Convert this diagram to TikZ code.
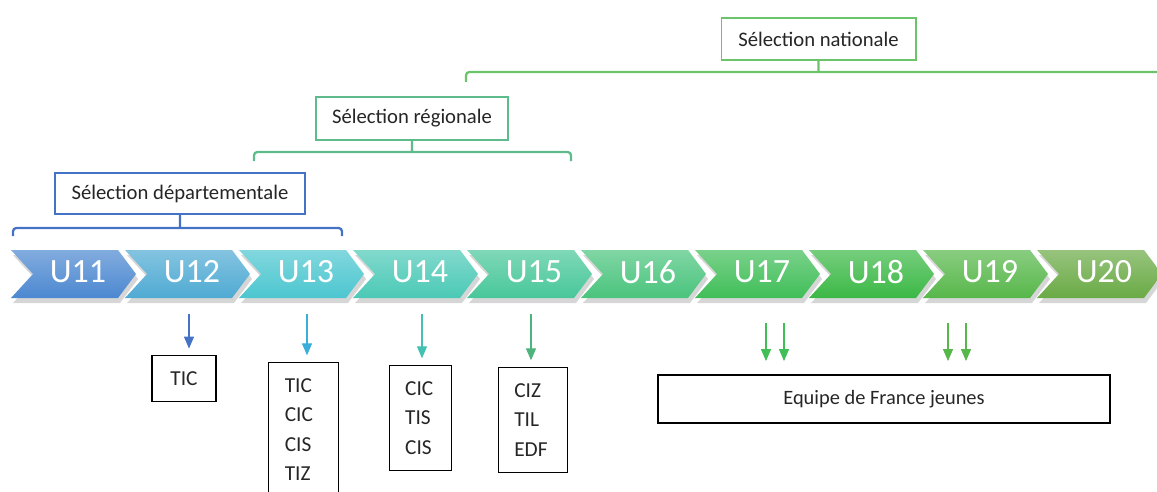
\documentclass[tikz,border=0pt]{standalone}
\usepackage{fontspec}
\setmainfont{Carlito}
\usepackage{tikz}
\usetikzlibrary{positioning}
\usetikzlibrary{arrows.meta}

\definecolor{c11}{HTML}{4C88D0}
\definecolor{c12}{HTML}{4FAAD3}
\definecolor{c13}{HTML}{4CC6CF}
\definecolor{c14}{HTML}{4BC9B6}
\definecolor{c15}{HTML}{48C79A}
\definecolor{c16}{HTML}{4AC47D}
\definecolor{c17}{HTML}{40BE58}
\definecolor{c18}{HTML}{3BB845}
\definecolor{c19}{HTML}{57B74A}
\definecolor{c20}{HTML}{6AAA45}
\definecolor{deptblue}{HTML}{4472C4}
\definecolor{reggreen}{HTML}{5DBB8C}
\definecolor{natgreen}{HTML}{6CC46A}
\definecolor{txt}{HTML}{262626}

\tikzset{
    selbox/.style={draw, line width=1pt, fill=white, text=txt, font=\fontsize{15.5}{18}\selectfont},
    bracket/.style={line width=1.7pt, rounded corners=2.5pt},
    listbox/.style={draw=black, line width=0.9pt, anchor=north, align=left, text width=28pt, inner xsep=12pt, inner ysep=12pt, text=txt, font=\fontsize{16}{22}\selectfont},
    down/.style={-{Triangle[width=7.5pt,length=9pt]}, line width=0.9pt, shorten >=5pt},
}

\begin{document}
\begin{tikzpicture}[x=0.75pt, y=-0.75pt]
    \clip (0,0) rectangle (1157,492); % same frame as the 1157x492 picture
    \foreach \i in {0,...,9} % soft shadow under the chevrons
        \fill[black, opacity=0.16] ({13+114*\i},255) -- ++(107,0) -- ++(18,24) -- ++(-18,24) -- ++(-107,0) -- ++(22,-24) -- cycle;
    \foreach \n [count=\i from 0] in {11,...,20} {
        \shade[top color=c\n!70!white, bottom color=c\n] ({11+114*\i},250) -- ++(107,0) -- ++(18,24) -- ++(-18,24) -- ++(-107,0) -- ++(22,-24) -- cycle;
        \node[text=white, font=\fontsize{25.5}{30}\selectfont] (u\n) at ({78+114*\i},272) {U\n};
    }

    % selection levels
    \node[selbox, draw=deptblue, minimum width=187.5pt, minimum height=30.75pt] (dept) at (180,193.5) {Sélection départementale};
    \draw[bracket, deptblue] (13,236) -- (13,228) -- (342,228) -- (342,236) (dept.south) -- ++(0,14);
    \node[selbox, draw=reggreen, minimum width=144pt, minimum height=32.25pt] (reg) at (412,118.5) {Sélection régionale};
    \draw[bracket, reggreen] (254,161) -- (254,152) -- (571,152) -- (571,161) (reg.south) -- ++(0,12);
    \node[selbox, draw=natgreen, minimum width=146pt, minimum height=31.5pt] (nat) at (818.5,39) {Sélection nationale};
    \draw[bracket, natgreen] (466,82) -- (466,72) -- (1170,72) (nat.south) -- ++(0,12);

    % competitions
    \node[draw=black, line width=0.9pt, minimum width=48pt, minimum height=34pt, text=txt, font=\fontsize{16}{22}\selectfont] (b12) at (184,378.5) {TIC};
    \node[listbox] (b13) at (303.5,362) {TIC\\CIC\\CIS\\TIZ};
    \node[listbox, text width=23pt] (b14) at (420.5,365) {CIC\\TIS\\CIS};
    \node[listbox] (b15) at (533,367) {CIZ\\TIL\\EDF};
    \node[draw=black, line width=0.9pt, minimum width=339pt, minimum height=36pt, text=txt, font=\fontsize{15.3}{18}\selectfont] (edf) at (884,399) {Equipe de France jeunes};

    \foreach \p/\x/\b/\col in {a12/189/b12/deptblue, a13/307/b13/{rgb,255:red,58;green,174;blue,219}, a14/422/b14/{rgb,255:red,68;green,193;blue,177}, a15/531/b15/{rgb,255:red,76;green,180;blue,124}} {
        \coordinate (\p) at (\x,314);
        \draw[down, color=\col] (\p) -- (\p |- \b.north);
    }
    \foreach \p/\x/\col in {a17/766/c17, b17/784/c17, a19/948/c19, b19/966/c19} {
        \coordinate (\p) at (\x,323);
        \draw[down, \col, shorten >=10pt] (\p) -- (\p |- edf.north);
    }
\end{tikzpicture}
\end{document}
